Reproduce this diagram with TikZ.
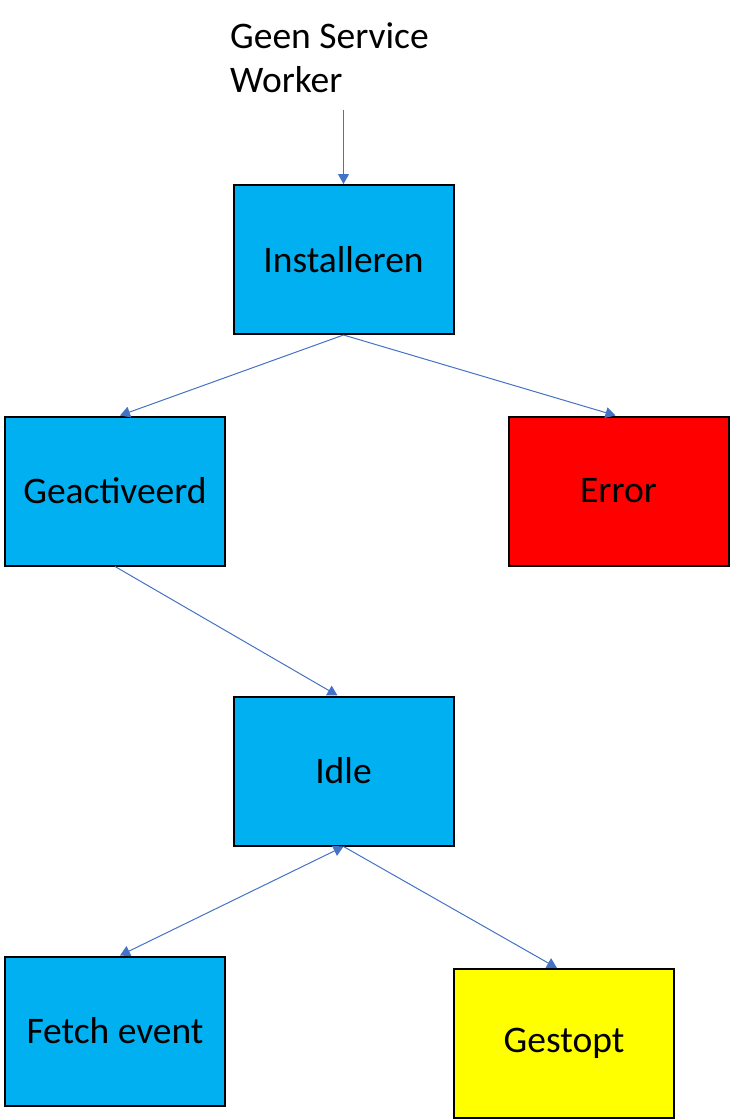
\documentclass[tikz,border=0pt]{standalone}
\usepackage{fontspec}
\setmainfont{Carlito}
\usetikzlibrary{arrows.meta}
\definecolor{boxblue}{HTML}{00B0F0}
\definecolor{linkblue}{HTML}{4472C4}
\definecolor{boxred}{HTML}{FF0000}
\definecolor{boxyellow}{HTML}{FFFF00}
\tikzset{
  state/.style={draw=black, line width=2pt, minimum width=220pt, minimum height=149pt, inner sep=0pt, font=\fontsize{37.5}{45}\selectfont},
  link/.style={draw=linkblue, line width=1pt, -{Triangle[length=10pt,width=11pt]}},
  blink/.style={draw=linkblue, line width=1pt, {Triangle[length=10pt,width=11pt]}-{Triangle[length=10pt,width=11pt]}}
}
\begin{document}
\begin{tikzpicture}[x=1pt,y=-1pt]
\useasboundingbox (0,0) rectangle (730,1120);
\node[anchor=north west, inner sep=0pt, align=left, font=\fontsize{37.5}{44}\selectfont] (start) at (230,22) {Geen Service\\Worker};
\coordinate (startpt) at (343.5,110);
\node[state, fill=boxblue] (inst) at (343.5,259.5) {Installeren};
\node[state, fill=boxblue] (geac) at (115,491) {Geactiveerd};
\node[state, fill=boxred] (err) at (618.5,491) {Error};
\node[state, fill=boxblue] (idle) at (343.5,771) {Idle};
\node[state, fill=boxblue] (fetch) at (115,1031) {Fetch event};
\node[state, fill=boxyellow] (stop) at (564,1043.5) {Gestopt};
\draw[link] (startpt) -- (inst.north);
\draw[link] (inst.south) -- ([xshift=5pt]geac.north);
\draw[link] (inst.south) -- ([xshift=-3pt]err.north);
\draw[link] (geac.south) -- ([xshift=-6pt]idle.north);
\draw[blink] (idle.south) -- ([xshift=5pt]fetch.north);
\draw[link] (idle.south) -- ([xshift=-7pt]stop.north);
\end{tikzpicture}
\end{document}
